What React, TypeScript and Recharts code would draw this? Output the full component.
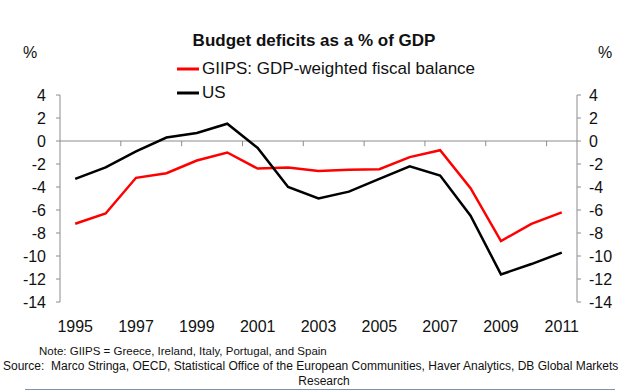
import React from 'react';
import { LineChart, Line, XAxis, YAxis, ReferenceLine } from 'recharts';

const years = [1995, 1996, 1997, 1998, 1999, 2000, 2001, 2002, 2003, 2004, 2005, 2006, 2007, 2008, 2009, 2010, 2011];
const giips = [-7.2, -6.3, -3.2, -2.8, -1.7, -1.0, -2.4, -2.3, -2.6, -2.5, -2.45, -1.4, -0.8, -4.1, -8.7, -7.2, -6.2];
const us = [-3.3, -2.3, -0.9, 0.3, 0.7, 1.5, -0.6, -4.0, -5.0, -4.4, -3.3, -2.2, -3.0, -6.5, -11.6, -10.7, -9.7];
const xTickLabels = [1995, 1997, 1999, 2001, 2003, 2005, 2007, 2009, 2011];
const yTicks = [4, 2, 0, -2, -4, -6, -8, -10, -12, -14];
const boundaryTicks = [1996.5, 1998.5, 2000.5, 2002.5, 2004.5, 2006.5, 2008.5, 2010.5];

const series = [
  { key: 'giips', name: 'GIIPS: GDP-weighted fiscal balance', color: '#ff0000', axis: 'right' },
  { key: 'us', name: 'US', color: '#000000', axis: 'left' },
];

const data = years.map((y, i) => ({ year: y, giips: giips[i], us: us[i] }));

const FONT = '"Liberation Sans", Arial, sans-serif';
const AXIS = '#8c8c8c';

export default function App() {
  return (
    <div style={{ position: 'absolute', left: 0, top: 0, width: 640, height: 392, background: '#fff', fontFamily: FONT }}>
      <LineChart width={640} height={392} data={data} margin={{ top: 95, right: 0, bottom: 60, left: 0 }}>
        <XAxis
          dataKey="year"
          type="number"
          domain={[1994.5, 2011.5]}
          ticks={xTickLabels}
          interval={0}
          axisLine={false}
          tickLine={false}
          height={30}
          tickMargin={13}
          tick={{ fill: '#111', fontSize: 16, fontFamily: FONT }}
        />
        <YAxis
          yAxisId="left"
          domain={[-14, 4]}
          ticks={yTicks}
          interval={0}
          width={60}
          axisLine={{ stroke: AXIS }}
          tickLine={{ stroke: AXIS }}
          tickSize={4}
          tickMargin={10}
          tick={{ fill: '#111', fontSize: 16, fontFamily: FONT }}
        />
        <YAxis
          yAxisId="right"
          orientation="right"
          domain={[-14, 4]}
          ticks={yTicks}
          interval={0}
          width={63}
          axisLine={{ stroke: AXIS }}
          tickLine={{ stroke: AXIS }}
          tickSize={4}
          tickMargin={8}
          tick={{ fill: '#111', fontSize: 16, fontFamily: FONT }}
        />
        <ReferenceLine yAxisId="left" y={0} stroke={AXIS} strokeWidth={1} />
        {boundaryTicks.map((b) => (
          <ReferenceLine
            key={b}
            yAxisId="left"
            segment={[{ x: b, y: 0 }, { x: b, y: -0.45 }]}
            stroke={AXIS}
            strokeWidth={1}
          />
        ))}
        {series.map((s) => (
          <Line
            key={s.key}
            yAxisId={s.axis}
            dataKey={s.key}
            name={s.name}
            stroke={s.color}
            strokeWidth={2.5}
            dot={false}
            isAnimationActive={false}
          />
        ))}
      </LineChart>
      <div style={{ position: 'absolute', left: 177, top: 57 }}>
        {series.map((s) => (
          <div key={s.key} style={{ display: 'flex', alignItems: 'center', height: 24 }}>
            <svg width={22} height={4} style={{ marginRight: 3 }}>
              <line x1={0} y1={2} x2={22} y2={2} stroke={s.color} strokeWidth={3} />
            </svg>
            <span style={{ fontSize: 17, color: '#111', lineHeight: '24px', whiteSpace: 'nowrap' }}>{s.name}</span>
          </div>
        ))}
      </div>
      <div style={{ position: 'absolute', left: -6, top: 31, width: 640, textAlign: 'center', fontSize: 17, fontWeight: 'bold', lineHeight: '20px', color: '#111' }}>
        Budget deficits as a % of GDP
      </div>
      <div style={{ position: 'absolute', left: 23, top: 44, fontSize: 16, lineHeight: '18px', color: '#111' }}>%</div>
      <div style={{ position: 'absolute', left: 598, top: 44, fontSize: 16, lineHeight: '18px', color: '#111' }}>%</div>
      <div style={{ position: 'absolute', left: 39, top: 344, fontSize: 11.5, lineHeight: '14px', color: '#111', whiteSpace: 'nowrap' }}>
        Note: GIIPS = Greece, Ireland, Italy, Portugal, and Spain
      </div>
      <div style={{ position: 'absolute', left: 3, top: 359, fontSize: 12, lineHeight: '14px', color: '#111', whiteSpace: 'nowrap' }}>
        Source:&nbsp; Marco Stringa, OECD, Statistical Office of the European Communities, Haver Analytics, DB Global Markets
      </div>
      <div style={{ position: 'absolute', left: 224, top: 374, width: 200, textAlign: 'center', fontSize: 12, lineHeight: '14px', color: '#111' }}>
        Research
      </div>
      <div style={{ position: 'absolute', left: 25, top: 389, width: 590, height: 0, borderTop: '1px solid #7f93ad' }} />
    </div>
  );
}
